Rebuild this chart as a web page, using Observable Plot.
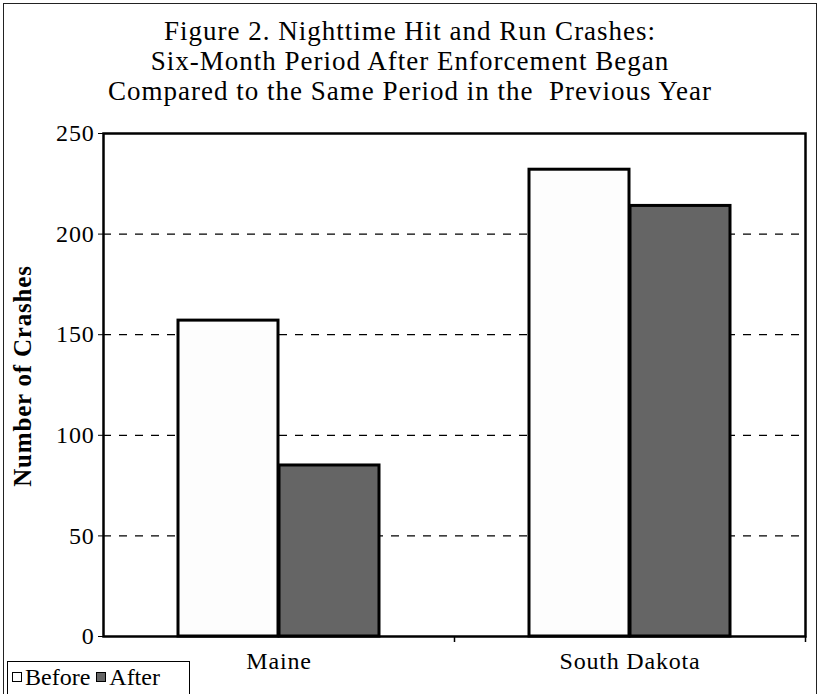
<!DOCTYPE html>
<html>
<head>
<meta charset="utf-8">
<script src="https://cdn.jsdelivr.net/npm/d3@7"></script>
<script src="https://cdn.jsdelivr.net/npm/@observablehq/plot@0.6"></script>
<style>
  html, body { margin: 0; padding: 0; background: #fff; }
  #wrap { position: relative; width: 820px; height: 694px; overflow: hidden; font-family: "Liberation Serif", serif; color: #000; }
  #border { position: absolute; left: 3px; top: 3px; width: 814px; height: 720px; border: 1.5px solid #222; box-sizing: border-box; }
  #title { position: absolute; left: 0; top: 16px; width: 820px; text-align: center; font-size: 27px; line-height: 30px; letter-spacing: 1px; }
  #chart { position: absolute; left: 0; top: 115px; }
  #chart svg { letter-spacing: 0.8px; }
  #legend { position: absolute; left: 7px; top: 661px; width: 183px; height: 45px; border: 1.5px solid #000; background: #fff; box-sizing: border-box; font-size: 24px; padding-left: 4px; line-height: 30px; white-space: nowrap; }
  .sw { display: inline-block; width: 8px; height: 8px; border: 1.5px solid #000; vertical-align: 3px; margin-right: 3px; }
</style>
</head>
<body>
<div id="wrap">
  <div id="border"></div>
  <div id="title"></div>
  <div id="chart"></div>
  <div id="legend"></div>
</div>
<script>
const titleLines = [
  "Figure 2. Nighttime Hit and Run Crashes:",
  "Six-Month Period After Enforcement Began",
  "Compared to the Same Period in the\u00a0 Previous Year"
];
const states = ["Maine", "South Dakota"];
const seriesNames = ["Before", "After"];
const beforeValues = [157, 232];
const afterValues = [85, 214];
const yTicks = [0, 50, 100, 150, 200, 250];
const gridValues = [50, 100, 150, 200];
const yLabel = "Number of Crashes";
const colors = { Before: "#fdfdfd", After: "#656565" };

document.getElementById("title").innerHTML = titleLines.join("<br>");

const beforeRows = states.map((s, i) => ({ state: s, series: "Before", value: beforeValues[i] }));
const afterRows = states.map((s, i) => ({ state: s, series: "After", value: afterValues[i] }));

const chart = Plot.plot({
  width: 820,
  height: 579,
  marginTop: 18,
  marginBottom: 58,
  marginLeft: 103,
  marginRight: 15,
  style: { fontFamily: "Liberation Serif, serif", fontSize: "24px", color: "#000", background: "transparent" },
  x: { domain: states, padding: 0, label: null, tickSize: 0, tickPadding: 15 },
  y: { domain: [0, 250], ticks: yTicks, tickSize: 5, tickPadding: 4, label: null },
  marks: [
    Plot.ruleY(gridValues, { stroke: "#000", strokeWidth: 1.2, strokeDasharray: "8,8" }),
    Plot.barY(beforeRows, { x: "state", y: "value", fill: colors.Before, stroke: "#000", strokeWidth: 3, insetLeft: 75, insetRight: 176 }),
    Plot.barY(afterRows, { x: "state", y: "value", fill: colors.After, stroke: "#000", strokeWidth: 3, insetLeft: 176, insetRight: 75 }),
    Plot.ruleX(states, { x: d => d, dx: 175.5, y1: 0, y2: 0, insetBottom: -6, stroke: "#000", strokeWidth: 1.5 }),
    Plot.frame({ stroke: "#000", strokeWidth: 2.5 }),
    Plot.text([yLabel], { frameAnchor: "left", textAnchor: "middle", rotate: -90, dx: -81, dy: -9, fontWeight: "bold", fontSize: 25, fill: "#000" })
  ]
});
document.getElementById("chart").appendChild(chart);

document.getElementById("legend").innerHTML = seriesNames
  .map(n => `<span class="sw" style="background:${colors[n]}"></span>${n} `)
  .join("");
</script>
</body>
</html>
